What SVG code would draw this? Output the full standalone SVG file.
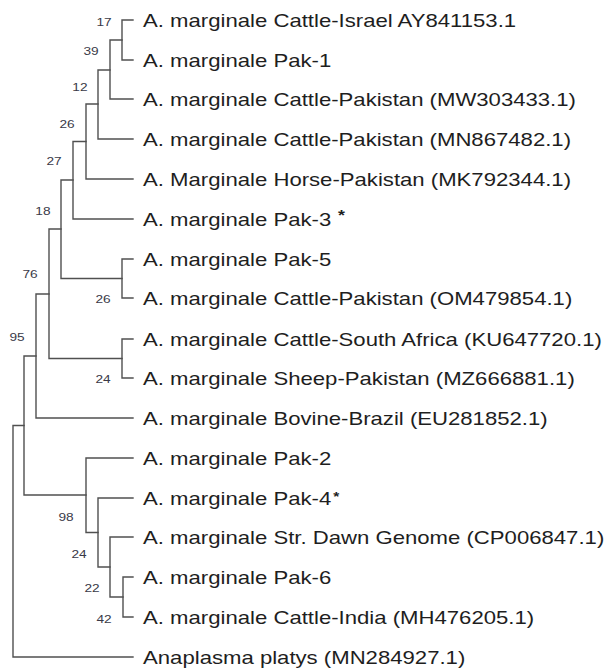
<svg xmlns="http://www.w3.org/2000/svg" width="613" height="668" viewBox="0 0 613 668">
<style>
.br{fill:none;stroke:#505050;stroke-width:1.4;stroke-linecap:square}
.lb{font-family:"Liberation Sans",Arial,sans-serif;font-size:18.6px;fill:#1e1e1e}
.bs{font-family:"Liberation Sans",Arial,sans-serif;font-size:11.5px;fill:#3a3a48;text-anchor:middle}
.st{font-family:"Liberation Sans",Arial,sans-serif;fill:#1e1e1e;font-weight:bold}
</style>
<rect width="613" height="668" fill="#fff"/>
<g id="connectors" class="br">
<path d="M122,20H133M122,60H133M122,20V60"/>
<path d="M110,40H122M110,99H133M110,40V99"/>
<path d="M98,70H110M98,139H133M98,70V139"/>
<path d="M86,104H98M86,179H133M86,104V179"/>
<path d="M73,141.5H86M73,219H133M73,141.5V219"/>
<path d="M122,259H133M122,298H133M122,259V298"/>
<path d="M61,180H73M61,278.5H122M61,180V278.5"/>
<path d="M122,339H133M122,378H133M122,339V378"/>
<path d="M49,229H61M49,358.5H122M49,229V358.5"/>
<path d="M36,294H49M36,418H133M36,294V418"/>
<path d="M123,577H133M123,617H133M123,577V617"/>
<path d="M110,597H123M110,537H133M110,537V597"/>
<path d="M98,567H110M98,498H133M98,498V567"/>
<path d="M86,532.5H98M86,458H133M86,458V532.5"/>
<path d="M24,356H36M24,495H86M24,356V495"/>
<path d="M13,425.5H24M13,657H133M13,425.5V657"/>
</g>
<g transform="scale(1.19,1)">
<g id="leaf1"><text class="lb" x="120.2" y="27">A. marginale Cattle-Israel AY841153.1</text></g>
<g id="leaf2"><text class="lb" x="120.2" y="67">A. marginale Pak-1</text></g>
<g id="leaf3"><text class="lb" x="120.2" y="106">A. marginale Cattle-Pakistan (MW303433.1)</text></g>
<g id="leaf4"><text class="lb" x="120.2" y="146">A. marginale Cattle-Pakistan (MN867482.1)</text></g>
<g id="leaf5"><text class="lb" x="120.2" y="186">A. Marginale Horse-Pakistan (MK792344.1)</text></g>
<g id="leaf6"><text class="lb" x="120.2" y="226">A. marginale Pak-3</text><text class="st" x="284" y="220" font-size="15">*</text></g>
<g id="leaf7"><text class="lb" x="120.2" y="266">A. marginale Pak-5</text></g>
<g id="leaf8"><text class="lb" x="120.2" y="305">A. marginale Cattle-Pakistan (OM479854.1)</text></g>
<g id="leaf9"><text class="lb" x="120.2" y="346">A. marginale Cattle-South Africa (KU647720.1)</text></g>
<g id="leaf10"><text class="lb" x="120.2" y="385">A. marginale Sheep-Pakistan (MZ666881.1)</text></g>
<g id="leaf11"><text class="lb" x="120.2" y="425">A. marginale Bovine-Brazil (EU281852.1)</text></g>
<g id="leaf12"><text class="lb" x="120.2" y="465">A. marginale Pak-2</text></g>
<g id="leaf13"><text class="lb" x="120.2" y="505">A. marginale Pak-4</text><text class="st" x="280" y="501" font-size="13">*</text></g>
<g id="leaf14"><text class="lb" x="120.2" y="544">A. marginale Str. Dawn Genome (CP006847.1)</text></g>
<g id="leaf15"><text class="lb" x="120.2" y="584">A. marginale Pak-6</text></g>
<g id="leaf16"><text class="lb" x="120.2" y="624">A. marginale Cattle-India (MH476205.1)</text></g>
<g id="leaf17"><text class="lb" x="120.2" y="664">Anaplasma platys (MN284927.1)</text></g>
<g id="bs17"><text class="bs" x="87.4" y="26">17</text></g>
<g id="bs39"><text class="bs" x="76.5" y="55">39</text></g>
<g id="bs12"><text class="bs" x="67.2" y="91">12</text></g>
<g id="bs26a"><text class="bs" x="56.3" y="128">26</text></g>
<g id="bs27"><text class="bs" x="45.4" y="165">27</text></g>
<g id="bs18"><text class="bs" x="36.1" y="215">18</text></g>
<g id="bs76"><text class="bs" x="25.2" y="278">76</text></g>
<g id="bs26b"><text class="bs" x="86.6" y="303">26</text></g>
<g id="bs95"><text class="bs" x="14.3" y="341">95</text></g>
<g id="bs24a"><text class="bs" x="86.6" y="383">24</text></g>
<g id="bs98"><text class="bs" x="55.5" y="521">98</text></g>
<g id="bs24b"><text class="bs" x="66.4" y="558">24</text></g>
<g id="bs22"><text class="bs" x="77.3" y="592">22</text></g>
<g id="bs42"><text class="bs" x="87.4" y="623">42</text></g>
</g>
</svg>
